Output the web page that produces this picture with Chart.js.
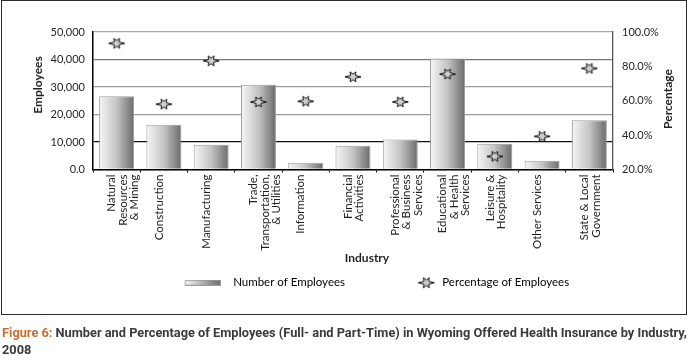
<!DOCTYPE html>
<html>
<head>
<meta charset="utf-8">
<script src="https://cdn.jsdelivr.net/npm/chart.js@4.4.0/dist/chart.umd.min.js"></script>
<style>
  html, body { margin: 0; padding: 0; background: #fff; }
  #wrap { position: relative; width: 689px; height: 316px; }
  #frame { position: absolute; left: 1px; top: 0; width: 684px; height: 313px; border: 1.5px solid #2b2b2b; pointer-events: none; }
  #myChart { position: absolute; left: 0; top: 0; }
  #caption { position: absolute; left: 2px; top: 324px; font-family: Roboto; font-weight: 700; font-size: 13px; line-height: 17px; color: #3a3a3a; white-space: nowrap; transform-origin: 0 0; }
  #caption .fig { color: #c66f33; }
</style>
</head>
<body>
<div id="wrap">
  <canvas id="myChart" width="689" height="316"></canvas>
  <div id="frame"></div>
</div>
<div id="caption"><span id="line1"><span class="fig">Figure 6:</span> Number and Percentage of Employees (Full- and Part-Time) in Wyoming Offered Health Insurance by Industry,</span><br>2008</div>

<script>
// categories along the x-axis
var industries = [
  ['Natural', 'Resources', '& Mining'],
  'Construction',
  'Manufacturing',
  ['Trade,', 'Transportation,', '& Utilities'],
  'Information',
  ['Financial', 'Activities'],
  ['Professional', '& Business', 'Services'],
  ['Educational', '& Health', 'Services'],
  ['Leisure &', 'Hospitality'],
  'Other Services',
  ['State & Local', 'Government']
];
// bars (left axis)
var employees = [26600, 16300, 9000, 30800, 2450, 8650, 10950, 40400, 9400, 3200, 17900];
// stars (right axis)
var percentage = [93.4, 58.0, 83.2, 59.3, 59.7, 73.9, 59.3, 75.5, 27.6, 39.3, 78.8];

var seriesNames = ['Number of Employees', 'Percentage of Employees'];
var axisNames = ['Employees', 'Percentage', 'Industry'];

Chart.defaults.font.family = 'Lato';
Chart.defaults.font.size = 11;
Chart.defaults.color = '#231f20';

var barPct = 0.74;

function makeStar(w, h, cx, cy) {
  var c = document.createElement('canvas');
  c.width = w; c.height = h;
  var g = c.getContext('2d');
  g.beginPath();
  for (var i = 0; i < 12; i++) {
    var a = i * Math.PI / 6;
    var r = (i % 2) ? 2.8 : ((i === 0 || i === 6) ? 8 : 5.8);
    g.lineTo(cx + r * Math.cos(a), cy - r * Math.sin(a));
  }
  g.closePath();
  g.fillStyle = '#cfcfcf';
  g.fill();
  g.strokeStyle = '#111';
  g.lineWidth = 1;
  g.stroke();
  return c;
}

function makeBarSwatch(w, h, x0, x1) {
  var c = document.createElement('canvas');
  c.width = w; c.height = h;
  var g = c.getContext('2d');
  var gr = g.createLinearGradient(x0, 0, x1, 0);
  gr.addColorStop(0, '#f6f6f6');
  gr.addColorStop(1, '#6a6a6a');
  g.fillStyle = gr;
  g.fillRect(x0, 0.5, x1 - x0, h - 1);
  g.strokeStyle = '#9a9a9a';
  g.lineWidth = 1;
  g.strokeRect(x0, 0.5, x1 - x0, h - 1);
  return c;
}

var starPoint = makeStar(20, 14, 10, 7);
var starLegend = makeStar(80, 14, 70.5, 7);
var barLegend = makeBarSwatch(68, 6, 32.75, 67.75);

function barFill(c) {
  var xs = c.chart.scales.x;
  if (!xs || c.type !== 'data') return '#aaaaaa';
  var cx = xs.getPixelForValue(c.dataIndex);
  var half = xs.width / industries.length * barPct / 2;
  var gr = c.chart.ctx.createLinearGradient(cx - half, 0, cx + half, 0);
  gr.addColorStop(0, '#f6f6f6');
  gr.addColorStop(0.5, '#c4c4c4');
  gr.addColorStop(1, '#6a6a6a');
  return gr;
}

function gridColor(c) {
  var v = c.tick ? c.tick.value : null;
  if (v === 10000) return '#111';
  if (v === 40000) return '#777';
  if (v === 50000) return '#aaa';
  return '#9c9c9c';
}

var axisTitles = {
  id: 'axisTitles',
  afterDraw: function (chart) {
    var ctx = chart.ctx, a = chart.chartArea;
    ctx.save();
    ctx.font = 'bold 12px Lato';
    ctx.fillStyle = '#231f20';
    ctx.textAlign = 'center';
    ctx.textBaseline = 'middle';
    ctx.save();
    ctx.translate(a.left - 55, a.top + 53);
    ctx.rotate(-Math.PI / 2);
    ctx.fillText(axisNames[0], 0, 0);
    ctx.restore();
    ctx.save();
    ctx.translate(a.right + 55, a.top + 67);
    ctx.rotate(-Math.PI / 2);
    ctx.fillText(axisNames[1], 0, 0);
    ctx.restore();
    ctx.fillText(axisNames[2], (a.left + a.right) / 2 + 14, a.bottom + 89);
    ctx.restore();
  }
};

var ctx = document.getElementById('myChart');
var myChart = new Chart(ctx, {
  data: {
    labels: industries,
    datasets: [
      {
        type: 'line',
        label: seriesNames[1],
        data: percentage,
        yAxisID: 'y2',
        showLine: false,
        pointStyle: starPoint,
        order: 0
      },
      {
        type: 'bar',
        label: seriesNames[0],
        data: employees,
        yAxisID: 'y',
        backgroundColor: barFill,
        borderColor: '#9a9a9a',
        borderWidth: 1,
        barPercentage: barPct,
        categoryPercentage: 1,
        order: 1
      }
    ]
  },
  options: {
    responsive: false,
    animation: false,
    layout: { padding: { left: 26, right: 0, top: 32, bottom: 17.5 } },
    plugins: {
      tooltip: { enabled: false },
      legend: {
        position: 'bottom',
        labels: {
          usePointStyle: true,
          pointStyleWidth: 81.5,
          padding: 10,
          color: '#231f20',
          font: { size: 11.5 },
          generateLabels: function () {
            return [
              { text: seriesNames[0], pointStyle: barLegend, fillStyle: 'transparent', strokeStyle: 'transparent', lineWidth: 0, datasetIndex: 1 },
              { text: seriesNames[1], pointStyle: starLegend, fillStyle: 'transparent', strokeStyle: 'transparent', lineWidth: 0, datasetIndex: 0 }
            ];
          }
        }
      }
    },
    scales: {
      x: {
        offset: true,
        grid: { offset: true, drawOnChartArea: false, tickLength: 3, color: '#000' },
        border: { color: '#000', width: 1.5 },
        ticks: { maxRotation: 90, minRotation: 90, autoSkip: false, padding: 2, labelOffset: -5, font: { size: 11.5, lineHeight: 1.0 } },
        afterFit: function (s) { s.height = 97.5; }
      },
      y: {
        position: 'left',
        min: 0,
        max: 50000,
        ticks: {
          stepSize: 10000,
          padding: 8,
          callback: function (v) { return v === 0 ? '0.0' : v.toLocaleString('en-US'); }
        },
        grid: { color: gridColor, lineWidth: 1.3, drawTicks: false },
        border: { color: '#000', width: 1.5 },
        afterFit: function (s) { s.width = 67; }
      },
      y2: {
        position: 'right',
        min: 20,
        max: 100,
        ticks: {
          stepSize: 20,
          padding: 9,
          callback: function (v) { return v.toFixed(1) + '%'; }
        },
        grid: { drawOnChartArea: false, drawTicks: false },
        border: { color: '#555', width: 1.3 },
        afterFit: function (s) { s.width = 76; }
      }
    }
  },
  plugins: [axisTitles]
});

// squeeze the caption to the frame width
var cap = document.getElementById('caption');
var w1 = document.getElementById('line1').getBoundingClientRect().width;
cap.style.transform = 'scaleX(' + (685 / w1) + ')';
</script>
</body>
</html>
